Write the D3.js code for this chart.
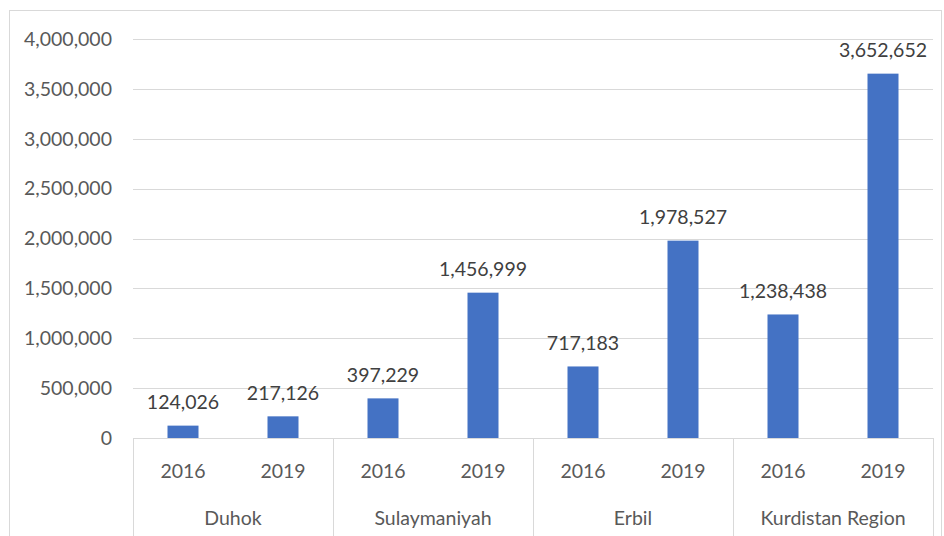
<!DOCTYPE html>
<html>
<head>
<meta charset="utf-8">
<script src="https://cdn.jsdelivr.net/npm/d3@7"></script>
<style>
  body { margin: 0; background: #fff; }
  text { font-family: Lato, "Open Sans", sans-serif; }
</style>
</head>
<body>
<div class="chart"></div>
<script>
// 資料
const regions = ['Duhok', 'Sulaymaniyah', 'Erbil', 'Kurdistan Region'];
const years = ['2016', '2019'];
const values2016 = [124026, 397229, 717183, 1238438];
const values2019 = [217126, 1456999, 1978527, 3652652];
const yTicks = [0, 500000, 1000000, 1500000, 2000000, 2500000, 3000000, 3500000, 4000000];

const rows = [];
regions.forEach((r, i) => {
  rows.push({ region: r, year: years[0], value: values2016[i] });
  rows.push({ region: r, year: years[1], value: values2019[i] });
});

const W = 944, H = 536;
const plotL = 133, plotR = 933, plotT = 39, plotB = 438;
const fs = 19.5;

const svg = d3.select('.chart').append('svg')
  .attr('width', W)
  .attr('height', H);

// 外框
svg.append('rect')
  .attr('x', 9.5).attr('y', 10.5)
  .attr('width', 932).attr('height', 540)
  .attr('fill', 'none')
  .attr('stroke', '#d9d9d9');

const x = d3.scaleBand()
  .domain(rows.map((d, i) => i))
  .range([plotL, plotR])
  .paddingInner(0.69).paddingOuter(0.345);

const xGroup = d3.scaleBand()
  .domain(regions)
  .range([plotL, plotR]);

const y = d3.scaleLinear()
  .domain([0, 4000000])
  .range([plotB, plotT]);

const fmt = d3.format(',');

// 格線
svg.append('g').selectAll('line')
  .data(yTicks)
  .enter().append('line')
  .attr('x1', plotL).attr('x2', plotR)
  .attr('y1', d => Math.round(y(d)) + 0.5)
  .attr('y2', d => Math.round(y(d)) + 0.5)
  .attr('stroke', '#d9d9d9')
  .attr('stroke-width', 1);

// y 軸標籤
const yAxis = d3.axisLeft(y).tickValues(yTicks).tickFormat(fmt).tickSize(0).tickPadding(0);
const gy = svg.append('g')
  .attr('transform', `translate(${plotL - 21},0)`)
  .call(yAxis);
gy.select('.domain').remove();
gy.selectAll('text')
  .attr('font-size', fs)
  .attr('fill', '#595959')
  .style('font-family', 'Lato, "Open Sans", sans-serif');

// 長條
svg.append('g').selectAll('rect')
  .data(rows)
  .enter().append('rect')
  .attr('x', (d, i) => x(i))
  .attr('width', x.bandwidth())
  .attr('y', d => y(d.value))
  .attr('height', d => plotB - y(d.value))
  .attr('fill', '#4472c4');

// 數值標籤
svg.append('g').selectAll('text')
  .data(rows)
  .enter().append('text')
  .text(d => fmt(d.value))
  .attr('x', (d, i) => x(i) + x.bandwidth() / 2)
  .attr('y', d => y(d.value) - 16.5)
  .attr('text-anchor', 'middle')
  .attr('font-size', fs)
  .attr('fill', '#404040');

// 類別分隔線
const seps = regions.map(r => xGroup(r)).concat([plotR]);
svg.append('g').selectAll('line')
  .data(seps)
  .enter().append('line')
  .attr('x1', d => d + 0.5).attr('x2', d => d + 0.5)
  .attr('y1', plotB).attr('y2', H)
  .attr('stroke', '#d9d9d9');

// 年份標籤
svg.append('g').selectAll('text')
  .data(rows)
  .enter().append('text')
  .text(d => d.year)
  .attr('x', (d, i) => x(i) + x.bandwidth() / 2)
  .attr('y', 478)
  .attr('text-anchor', 'middle')
  .attr('font-size', fs)
  .attr('fill', '#595959');

// 地區標籤
svg.append('g').selectAll('text')
  .data(regions)
  .enter().append('text')
  .text(d => d)
  .attr('x', d => xGroup(d) + xGroup.bandwidth() / 2)
  .attr('y', 525)
  .attr('text-anchor', 'middle')
  .attr('font-size', fs)
  .attr('fill', '#595959');
</script>
</body>
</html>
